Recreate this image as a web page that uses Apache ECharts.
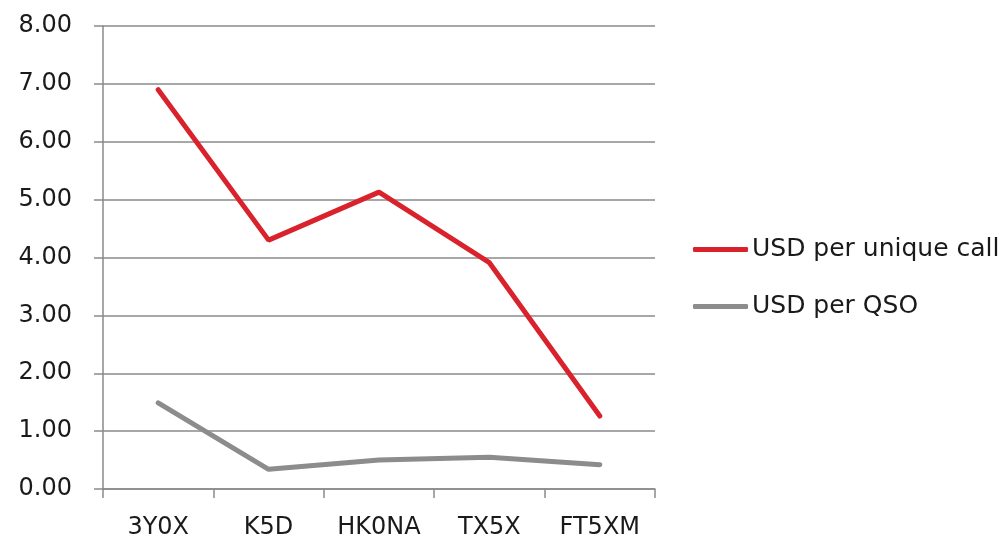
<!DOCTYPE html>
<html>
<head>
<meta charset="utf-8">
<script src="https://cdn.jsdelivr.net/npm/echarts@6/dist/echarts.min.js"></script>
<style>
  html, body { margin: 0; padding: 0; background: #fff; }
  #main { width: 1007px; height: 543px; }
</style>
</head>
<body>
<div id="main"></div>
<script>
var categories = ['3Y0X', 'K5D', 'HK0NA', 'TX5X', 'FT5XM'];
var perUniqueCall = [6.90, 4.30, 5.13, 3.91, 1.26];
var perQso = [1.49, 0.34, 0.50, 0.55, 0.42];

var font = 'DejaVu Sans';
var myChart = echarts.init(document.getElementById('main'));
myChart.setOption({
  animation: false,
  grid: { left: 103, right: 352, top: 26, bottom: 54 },
  legend: {
    orient: 'vertical',
    left: 693,
    top: 237,
    padding: 0,
    itemWidth: 55,
    itemHeight: 5,
    itemGap: 32,
    icon: 'roundRect',
    textStyle: { fontFamily: font, fontSize: 25, color: '#1a1a1a', padding: [0, 0, 0, -1] },
    data: ['USD per unique call', 'USD per QSO']
  },
  xAxis: {
    type: 'category',
    data: categories,
    boundaryGap: true,
    axisLine: { lineStyle: { color: '#8a8a8a', width: 1.5 } },
    axisTick: { show: true, length: 9, lineStyle: { color: '#8a8a8a', width: 1.5 } },
    axisLabel: { fontFamily: font, fontSize: 24, color: '#1a1a1a', margin: 27 }
  },
  yAxis: {
    type: 'value',
    min: 0,
    max: 8,
    interval: 1,
    axisLine: { show: true, lineStyle: { color: '#8a8a8a', width: 1.5 } },
    axisTick: { show: true, length: 9, lineStyle: { color: '#8a8a8a', width: 1.5 } },
    splitLine: { lineStyle: { color: '#8a8a8a', width: 1.5 } },
    axisLabel: {
      fontFamily: font, fontSize: 24, color: '#1a1a1a', margin: 31,
      formatter: function (v) { return v.toFixed(2); }
    }
  },
  series: [
    {
      name: 'USD per unique call',
      type: 'line',
      data: perUniqueCall,
      symbol: 'none',
      color: '#d9222b',
      lineStyle: { width: 5, color: '#d9222b', cap: 'round' }
    },
    {
      name: 'USD per QSO',
      type: 'line',
      data: perQso,
      symbol: 'none',
      color: '#8c8c8c',
      lineStyle: { width: 5, color: '#8c8c8c', cap: 'round' }
    }
  ]
});
</script>
</body>
</html>
